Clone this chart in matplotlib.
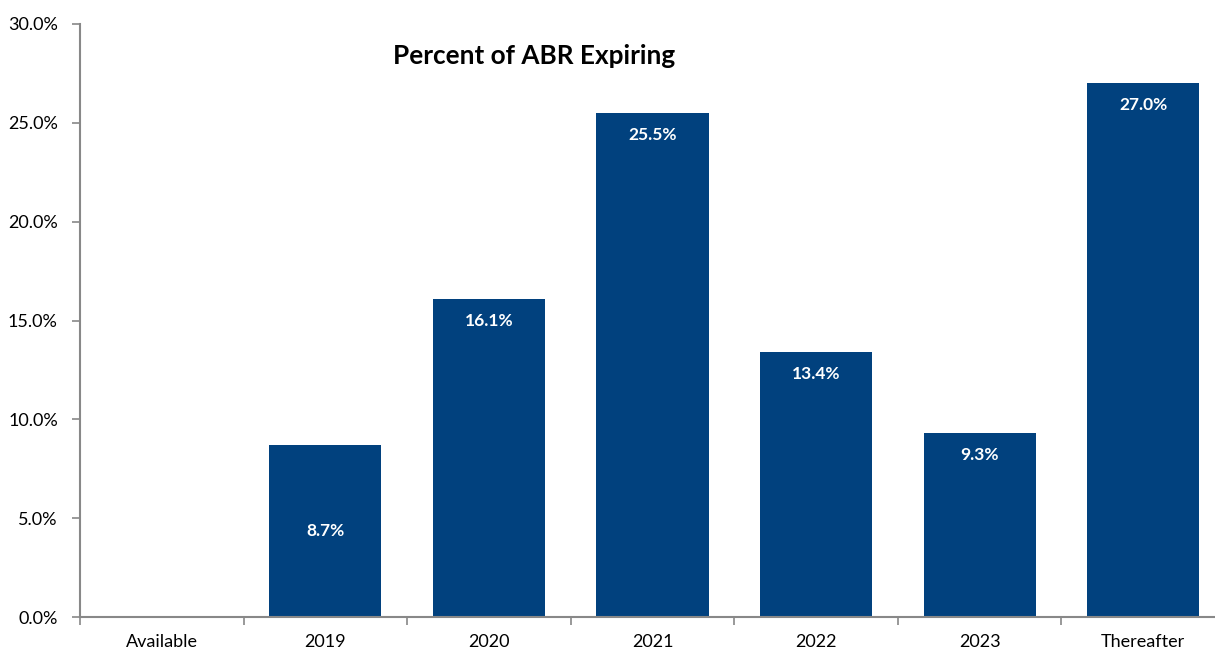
import matplotlib.pyplot as plt
import numpy as np

categories = ['Available', '2019', '2020', '2021', '2022', '2023', 'Thereafter']
values = [0.0, 8.7, 16.1, 25.5, 13.4, 9.3, 27.0]
labels = ['', '8.7%', '16.1%', '25.5%', '13.4%', '9.3%', '27.0%']

plt.rcParams['font.family'] = ['Lato', 'DejaVu Sans']

fig = plt.figure(figsize=(12.15, 6.49), dpi=100)
ax = fig.add_axes([80/1215, 32/649, 1145/1215, 593/649])

x = np.arange(len(categories))
bars = ax.bar(x, values, width=0.685, color='#01417E', zorder=2)

for i, (b, v, lab) in enumerate(zip(bars, values, labels)):
    if not lab:
        continue
    if v < 9:
        y = v / 2
        va = 'center'
    else:
        y = v - 0.7
        va = 'top'
    ax.text(b.get_x() + b.get_width()/2, y, lab, ha='center', va=va,
            color='white', fontsize=12.5, fontweight='bold')

ax.set_xlim(-0.5, len(categories) - 0.5)
ax.set_ylim(0, 30)
ax.set_yticks(np.arange(0, 31, 5))
ax.set_yticklabels(['%.1f%%' % t for t in np.arange(0, 31, 5)], fontsize=13)
ax.set_xticks(x)
ax.set_xticklabels(categories, fontsize=13)
ax.set_xticks(np.arange(-0.5, len(categories), 1), minor=True)
ax.tick_params(axis='x', which='major', length=0, pad=12)
ax.tick_params(axis='x', which='minor', length=6, color='#888888', width=1.2)
ax.tick_params(axis='y', length=6, color='#888888', width=1.2, pad=10)

for s in ['top', 'right']:
    ax.spines[s].set_visible(False)
for s in ['left', 'bottom']:
    ax.spines[s].set_color('#888888')
    ax.spines[s].set_linewidth(1.5)

fig.text(534/1215, 1 - 56/649, 'Percent of ABR Expiring', ha='center', va='center',
         fontsize=18.8, fontweight='bold')

plt.savefig('out.png', dpi=100)
